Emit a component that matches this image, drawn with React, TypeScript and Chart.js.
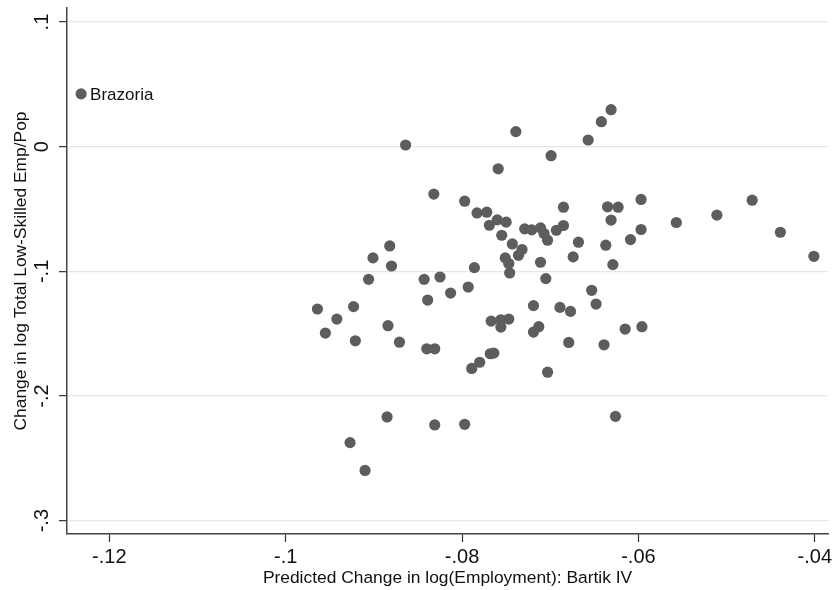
import React, { useEffect, useRef } from "react";
import { Chart, registerables } from "chart.js";

Chart.register(...registerables);

// Predicted change in log(Employment): Bartik IV
const xValues: number[] = [
  -0.1232, -0.0864, -0.0832, -0.0882, -0.0901, -0.088, -0.0906, -0.0843, -0.0825, -0.0813,
  -0.0839, -0.0964, -0.0923, -0.0942, -0.0955, -0.0884, -0.0921, -0.0871, -0.084, -0.0831,
  -0.0885, -0.0831, -0.0927, -0.091, -0.0631, -0.0642, -0.0657, -0.0739, -0.0699, -0.0759,
  -0.0797, -0.0783, -0.0772, -0.0769, -0.076, -0.075, -0.0755, -0.0743, -0.0732, -0.0736,
  -0.0751, -0.0747, -0.0746, -0.0786, -0.0729, -0.0721, -0.0711, -0.0707, -0.0703, -0.0693,
  -0.0685, -0.0685, -0.0668, -0.0674, -0.0711, -0.0637, -0.0629, -0.0631, -0.0635, -0.0623,
  -0.0597, -0.0597, -0.0609, -0.0557, -0.0511, -0.0471, -0.0439, -0.0401, -0.0793, -0.0705,
  -0.0653, -0.0648, -0.0719, -0.0689, -0.0677, -0.0767, -0.0756, -0.0747, -0.0756, -0.0713,
  -0.0719, -0.0615, -0.0596, -0.0679, -0.0639, -0.0768, -0.0764, -0.078, -0.0789, -0.0703,
  -0.0797, -0.0626,
];

// Change in log Total Low-Skilled Emp/Pop
const yValues: number[] = [
  0.0424, 0.0014, -0.038, -0.0796, -0.0892, -0.0957, -0.1064, -0.1064, -0.1045, -0.1174,
  -0.123, -0.1302, -0.1283, -0.1383, -0.1495, -0.1436, -0.1557, -0.1568, -0.1621, -0.1621,
  -0.2168, -0.2232, -0.2374, -0.2597, 0.0297, 0.0201, 0.0054, 0.0121, -0.0072, -0.0177,
  -0.0437, -0.0531, -0.0525, -0.063, -0.0587, -0.0605, -0.071, -0.078, -0.0825, -0.0871,
  -0.0892, -0.0937, -0.1013, -0.097, -0.0659, -0.0667, -0.0651, -0.0696, -0.075, -0.067,
  -0.0632, -0.0485, -0.0766, -0.0884, -0.0927, -0.079, -0.0946, -0.0589, -0.0482, -0.0485,
  -0.0423, -0.0664, -0.0745, -0.0608, -0.0549, -0.0429, -0.0686, -0.0879, -0.1126, -0.1058,
  -0.1152, -0.1262, -0.1275, -0.1289, -0.1321, -0.1399, -0.1388, -0.1383, -0.1447, -0.1444,
  -0.1487, -0.1463, -0.1444, -0.157, -0.1589, -0.1661, -0.1656, -0.1729, -0.1779, -0.1809,
  -0.2227, -0.2163,
];

// Only one county is labelled in the figure
const pointLabels: string[] = xValues.map((_, i) => (i === 0 ? "Brazoria" : ""));

const xTicks: number[] = [-0.12, -0.1, -0.08, -0.06, -0.04];
const yTicks: number[] = [-0.3, -0.2, -0.1, 0, 0.1];
const xRange: number[] = [-0.1248, -0.0385];
const yRange: number[] = [-0.3107, 0.1113];

const xTitle = "Predicted Change in log(Employment): Bartik IV";
const yTitle = "Change in log Total Low-Skilled Emp/Pop";

const FONT = "'Liberation Sans', Arial, Helvetica, sans-serif";

function stataFmt(v: number): string {
  const r = Math.round(v * 10000) / 10000;
  if (r === 0) return "0";
  let s = String(r);
  s = s.replace(/^(-?)0\./, "$1.");
  return s;
}

const labelPlugin = {
  id: "pointLabelPlugin",
  afterDatasetsDraw(chart: any) {
    const meta = chart.getDatasetMeta(0);
    const ctx = chart.ctx;
    ctx.save();
    ctx.font = `17px ${FONT}`;
    ctx.fillStyle = "#111";
    ctx.textAlign = "left";
    ctx.textBaseline = "middle";
    meta.data.forEach((el: any, i: number) => {
      const txt = pointLabels[i];
      if (txt) ctx.fillText(txt, el.x + 9, el.y + 1.5);
    });
    ctx.restore();
  },
};

export default function App() {
  const ref = useRef<HTMLCanvasElement | null>(null);

  useEffect(() => {
    if (!ref.current) return;
    const data = xValues.map((x, i) => ({ x, y: yValues[i] }));
    const chart = new Chart(ref.current, {
      type: "scatter",
      data: {
        datasets: [
          {
            data,
            backgroundColor: "#5d5d5d",
            borderWidth: 0,
            pointRadius: 5.6,
            pointHoverRadius: 5.6,
          },
        ],
      },
      options: {
        responsive: false,
        animation: false,
        events: [],
        layout: { padding: { left: 0, right: 8, top: 8, bottom: 0 } },
        plugins: {
          legend: { display: false },
          tooltip: { enabled: false },
          title: { display: false },
        },
        scales: {
          x: {
            type: "linear",
            position: "bottom",
            min: xRange[0],
            max: xRange[1],
            afterBuildTicks: (scale: any) => {
              scale.ticks = xTicks.map((v) => ({ value: v }));
            },
            afterFit: (scale: any) => {
              scale.height = 56;
              scale.paddingLeft = 0;
              scale.paddingRight = 0;
            },
            grid: {
              drawOnChartArea: false,
              drawTicks: true,
              tickLength: 8,
              tickColor: "#333",
              tickWidth: 1.2,
            },
            border: { display: true, color: "#444", width: 1.5 },
            ticks: {
              callback: (v: any) => stataFmt(Number(v)),
              font: { family: FONT, size: 20 },
              color: "#111",
              padding: 3,
              maxRotation: 0,
              minRotation: 0,
              autoSkip: false,
            },
            title: {
              display: true,
              text: xTitle,
              font: { family: FONT, size: 17.4 },
              color: "#111",
              padding: { top: 0, bottom: 1.3 },
            },
          },
          y: {
            type: "linear",
            position: "left",
            min: yRange[0],
            max: yRange[1],
            afterBuildTicks: (scale: any) => {
              scale.ticks = yTicks.map((v) => ({ value: v }));
            },
            afterFit: (scale: any) => {
              scale.width = 67;
              scale.paddingTop = 0;
              scale.paddingBottom = 0;
            },
            grid: {
              drawOnChartArea: true,
              drawTicks: true,
              color: "#e6e6e6",
              lineWidth: 1.3,
              tickLength: 8,
              tickColor: "#333",
              tickWidth: 1.2,
            },
            border: { display: true, color: "#444", width: 1.5 },
            ticks: {
              callback: (v: any) => stataFmt(Number(v)),
              font: { family: FONT, size: 20 },
              color: "#111",
              padding: 5,
              minRotation: 90,
              maxRotation: 90,
              crossAlign: "center",
              autoSkip: false,
            },
            title: {
              display: true,
              text: yTitle,
              font: { family: FONT, size: 17.4 },
              color: "#111",
              padding: { top: 11, bottom: 0 },
            },
          },
        },
      },
      plugins: [labelPlugin],
    } as any);
    return () => chart.destroy();
  }, []);

  return (
    <div style={{ position: "absolute", left: 0, top: 0, width: 836, height: 590, background: "#fff" }}>
      <canvas ref={ref} width={836} height={590} style={{ display: "block" }} />
    </div>
  );
}
